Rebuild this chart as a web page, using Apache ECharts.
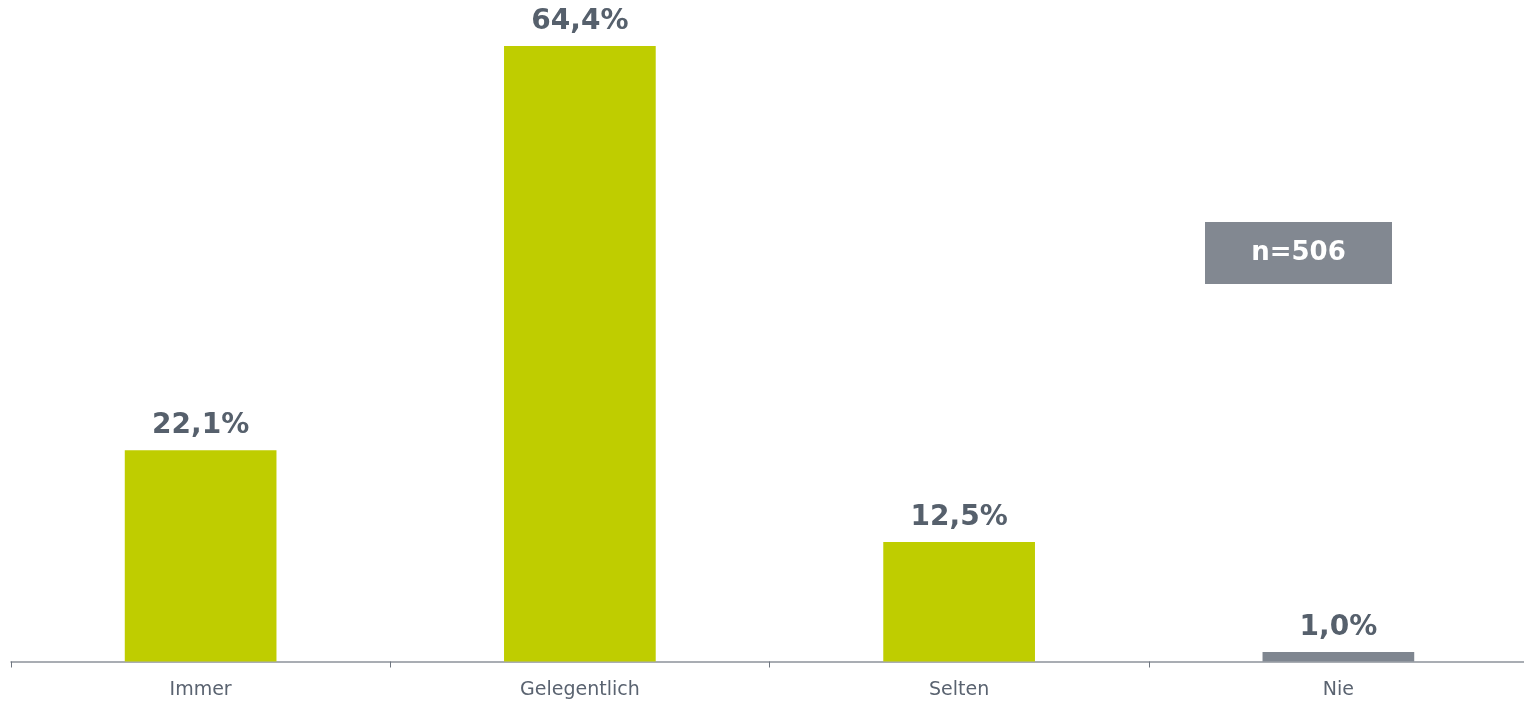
<!DOCTYPE html>
<html>
<head>
<meta charset="utf-8">
<script src="https://cdn.jsdelivr.net/npm/echarts@6/dist/echarts.min.js"></script>
<style>
  html, body { margin: 0; padding: 0; background: #ffffff; }
  #chart { width: 1524px; height: 702px; }
</style>
</head>
<body>
<div id="chart"></div>
<script>
// Survey answers: how often the item applies
const categories = ['Immer', 'Gelegentlich', 'Selten', 'Nie'];
const shares = [22.1, 64.4, 12.5, 1.0];
const barColors = ['#bfcd00', '#bfcd00', '#bfcd00', '#7f8690'];
const sampleLabel = 'n=506';

const FONT = '"DejaVu Sans", Verdana, sans-serif';

const chart = echarts.init(document.getElementById('chart'));

chart.setOption({
  animation: false,
  grid: {
    left: 11, right: -4, top: 46, bottom: 40.5,
    containLabel: false, outerBoundsMode: 'none'
  },
  xAxis: {
    type: 'category',
    data: categories,
    axisLine: { lineStyle: { color: '#8d939b', width: 1.5 } },
    axisTick: { show: true, length: 6, lineStyle: { color: '#6f7680' } },
    axisLabel: { color: '#5a6370', fontSize: 19, fontFamily: FONT, margin: 19 }
  },
  yAxis: {
    type: 'value',
    min: 0,
    max: function (v) { return v.max; },
    show: false,
    splitLine: { show: false }
  },
  series: [{
    type: 'bar',
    barWidth: '40%',
    data: shares.map((v, i) => ({ value: v, itemStyle: { color: barColors[i] } })),
    label: {
      show: true,
      position: 'top',
      distance: 10.5,
      color: '#56606c',
      fontSize: 28,
      fontWeight: 'bold',
      fontFamily: FONT,
      formatter: p => p.value.toFixed(1).replace('.', ',') + '%'
    }
  }],
  graphic: [{
    type: 'group',
    left: 1205,
    top: 222,
    children: [
      { type: 'rect', shape: { x: 0, y: 0, width: 187, height: 62 }, style: { fill: '#828891' } },
      {
        type: 'text',
        x: 93.5, y: 31,
        style: {
          text: sampleLabel, fill: '#ffffff', font: 'bold 26px ' + FONT,
          align: 'center', verticalAlign: 'middle'
        }
      }
    ]
  }]
});
</script>
</body>
</html>
